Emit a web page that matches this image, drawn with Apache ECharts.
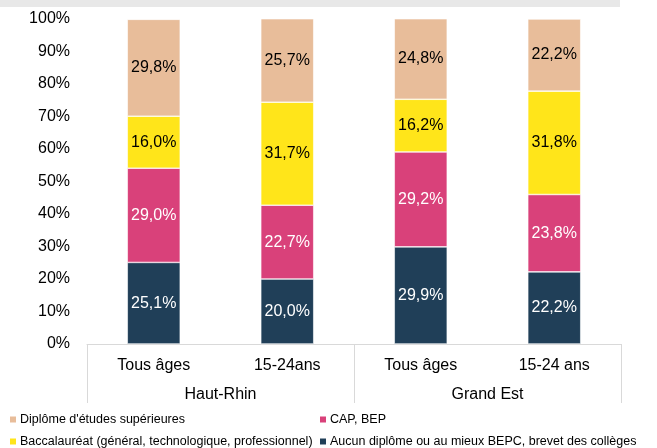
<!DOCTYPE html>
<html>
<head>
<meta charset="utf-8">
<script src="https://cdn.jsdelivr.net/npm/echarts@6/dist/echarts.min.js"></script>
<style>
  html, body { margin: 0; padding: 0; background: #fff; }
  #chart { width: 657px; height: 448px; }
</style>
</head>
<body>
<div id="chart"></div>
<script>
// categories
const subCategories = ['Tous âges', '15-24ans', 'Tous âges', '15-24 ans']
const groups = ['Haut-Rhin', 'Grand Est']
const yTicks = [0, 10, 20, 30, 40, 50, 60, 70, 80, 90, 100]

// series values (%), bottom to top
const aucun = [25.1, 20.0, 29.9, 22.2]
const capBep = [29.0, 22.7, 29.2, 23.8]
const bac = [16.0, 31.7, 16.2, 31.8]
const diplome = [29.8, 25.7, 24.8, 22.2]

const names = {
  aucun: 'Aucun diplôme ou au mieux BEPC, brevet des collèges',
  cap: 'CAP, BEP',
  bac: 'Baccalauréat (général, technologique, professionnel)',
  diplome: "Diplôme d'études supérieures"
}

const font = 'Liberation Sans, Arial, sans-serif'
const chart = echarts.init(document.getElementById('chart'))

function fmt(p) {
  return p.value.toFixed(1).replace('.', ',') + '%'
}

function barSeries(name, data, color, labelColor) {
  return {
    name: name,
    type: 'bar',
    stack: 'total',
    data: data,
    barWidth: 53,
    itemStyle: { color: color, borderColor: '#fff', borderWidth: 0.6 },
    label: {
      show: true,
      position: 'inside',
      formatter: fmt,
      color: labelColor,
      fontSize: 16,
      fontFamily: font
    }
  }
}

// one legend per item so the 2x2 layout is fixed
function legendItem(name, left, top) {
  return {
    left: left,
    top: top,
    padding: 0,
    itemWidth: 8,
    itemHeight: 8,
    icon: 'rect',
    data: [name],
    textStyle: { fontSize: 12.5, fontFamily: font, color: '#000', padding: [0, 0, 0, -2] }
  }
}

const option = {
  animation: false,
  backgroundColor: '#fff',
  graphic: [{
    type: 'rect',
    shape: { x: 0, y: 0, width: 620, height: 7 },
    style: { fill: '#e8e8e8' },
    silent: true
  }],
  grid: { left: 87, right: 36, top: 19, bottom: 104 },
  legend: [
    legendItem(names.diplome, 8, 413),
    legendItem(names.bac, 8, 435),
    legendItem(names.cap, 318, 413),
    legendItem(names.aucun, 318, 435)
  ],
  xAxis: [
    {
      type: 'category',
      data: subCategories,
      axisLine: { show: true, lineStyle: { color: '#d9d9d9', width: 1 } },
      axisTick: { show: false },
      axisLabel: { margin: 14, fontSize: 16, fontFamily: font, color: '#000' }
    },
    {
      type: 'category',
      position: 'bottom',
      data: groups,
      axisLine: { show: false },
      axisTick: { show: true, length: 59, lineStyle: { color: '#d9d9d9', width: 1 } },
      axisLabel: { margin: 43, fontSize: 16, fontFamily: font, color: '#000' }
    }
  ],
  yAxis: {
    type: 'value',
    min: yTicks[0],
    max: yTicks[yTicks.length - 1],
    interval: 10,
    splitLine: { show: false },
    axisLine: { show: false },
    axisTick: { show: false },
    axisLabel: { margin: 17, formatter: '{value}%', fontSize: 16, fontFamily: font, color: '#000' }
  },
  series: [
    barSeries(names.aucun, aucun, '#203f58', '#fff'),
    barSeries(names.cap, capBep, '#d9417a', '#fff'),
    barSeries(names.bac, bac, '#ffe51a', '#000'),
    barSeries(names.diplome, diplome, '#e8bd9a', '#000')
  ]
}

chart.setOption(option)
</script>
</body>
</html>
